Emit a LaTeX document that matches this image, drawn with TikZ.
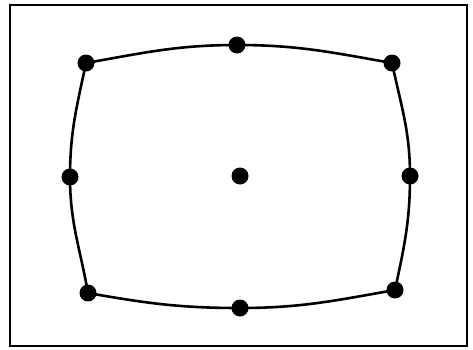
\documentclass[tikz,border=0pt]{standalone}
\begin{document}
\begin{tikzpicture}[x=1pt,y=1pt,
  dot/.style={circle,fill=black,inner sep=0pt,minimum size=17pt},
  edge/.style={line width=2.6pt,line cap=round,line join=round},
  frame/.style={line width=2.8pt}]
\useasboundingbox (0,0) rectangle (473,349);
\draw[frame] (10,3) rectangle (467,344);
\node[dot] (tl) at (86,286) {};
\node[dot] (tm) at (237,304) {};
\node[dot] (tr) at (392,286) {};
\node[dot] (rm) at (410,173) {};
\node[dot] (br) at (395,59) {};
\node[dot] (bm) at (240,41) {};
\node[dot] (bl) at (88,56) {};
\node[dot] (lm) at (70,172) {};
\node[dot] (c) at (240,173) {};
\draw[edge] (tl.center) to[out=10,in=180] (tm.center)
  to[out=0,in=170] (tr.center)
  to[out=-78,in=90] (rm.center)
  to[out=-90,in=78] (br.center)
  to[out=190,in=0] (bm.center)
  to[out=180,in=-10] (bl.center)
  to[out=100,in=-90] (lm.center)
  to[out=90,in=-102] (tl.center);
\end{tikzpicture}
\end{document}
